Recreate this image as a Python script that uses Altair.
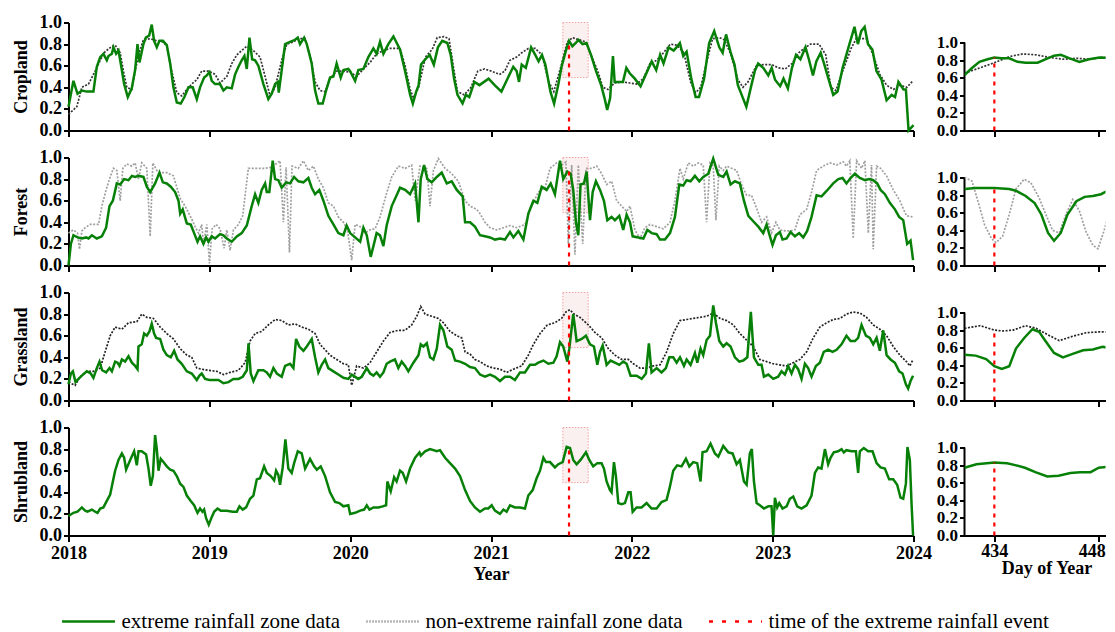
import altair as alt
import pandas as pd

FONT = "Liberation Serif"
GREEN = "#078007"
RED = "#ff0000"

# ---------------- data: main panels (decimal year, index value) ----------------
crop_ext = [(2018.000,.22),(2018.035,.46),(2018.064,.34),(2018.095,.37),(2018.130,.36),(2018.177,.36),(2018.201,.59),(2018.225,.68),(2018.248,.71),(2018.272,.65),(2018.284,.69),(2018.308,.71),(2018.319,.77),(2018.338,.71),(2018.355,.74),(2018.371,.62),(2018.395,.43),(2018.421,.31),(2018.449,.39),(2018.473,.56),(2018.490,.80),(2018.504,.63),(2018.532,.80),(2018.549,.86),(2018.573,.88),(2018.591,.98),(2018.608,.83),(2018.627,.77),(2018.646,.83),(2018.670,.83),(2018.698,.79),(2018.722,.62),(2018.745,.40),(2018.769,.26),(2018.797,.25),(2018.823,.31),(2018.852,.40),(2018.882,.40),(2018.911,.29),(2018.934,.40),(2018.963,.49),(2018.982,.51),
(2019.001,.54),(2019.017,.46),(2019.041,.43),(2019.076,.43),(2019.100,.37),(2019.124,.40),(2019.159,.39),(2019.183,.52),(2019.207,.59),(2019.230,.65),(2019.249,.69),(2019.266,.57),(2019.285,.86),(2019.304,.66),(2019.325,.65),(2019.348,.60),(2019.384,.43),(2019.419,.29),(2019.443,.34),(2019.467,.43),(2019.486,.45),(2019.493,.35),(2019.514,.56),(2019.538,.80),(2019.573,.82),(2019.609,.84),(2019.628,.86),(2019.644,.80),(2019.673,.86),(2019.692,.80),(2019.727,.62),(2019.751,.37),(2019.774,.25),(2019.805,.25),(2019.829,.37),(2019.857,.49),(2019.881,.50),(2019.904,.62),(2019.933,.49),(2019.952,.56),(2019.987,.57),
(2020.000,.55),(2020.035,.46),(2020.058,.56),(2020.094,.57),(2020.129,.68),(2020.165,.76),(2020.188,.71),(2020.212,.82),(2020.236,.71),(2020.271,.80),(2020.307,.87),(2020.354,.75),(2020.390,.55),(2020.426,.33),(2020.445,.25),(2020.469,.36),(2020.486,.42),(2020.503,.61),(2020.534,.66),(2020.565,.70),(2020.594,.61),(2020.623,.77),(2020.654,.83),(2020.690,.81),(2020.714,.70),(2020.738,.48),(2020.762,.33),(2020.798,.25),(2020.822,.33),(2020.846,.31),(2020.882,.45),(2020.918,.42),(2020.983,.48),
(2021.026,.42),(2021.074,.36),(2021.117,.48),(2021.158,.59),(2021.182,.55),(2021.199,.45),(2021.218,.61),(2021.247,.58),(2021.285,.77),(2021.314,.70),(2021.338,.64),(2021.362,.70),(2021.386,.61),(2021.422,.36),(2021.448,.25),(2021.477,.42),(2021.501,.59),(2021.530,.73),(2021.554,.83),(2021.578,.78),(2021.602,.81),(2021.621,.84),(2021.650,.80),(2021.678,.81),(2021.710,.70),(2021.746,.55),(2021.782,.42),(2021.806,.30),(2021.825,.19),(2021.846,.30),(2021.866,.69),(2021.878,.45),(2021.902,.45),(2021.937,.45),(2021.961,.58),(2021.985,.53),
(2022.021,.48),(2022.062,.41),(2022.093,.50),(2022.141,.64),(2022.173,.56),(2022.201,.70),(2022.225,.62),(2022.261,.77),(2022.297,.74),(2022.317,.77),(2022.341,.81),(2022.365,.69),(2022.389,.73),(2022.422,.48),(2022.453,.31),(2022.477,.31),(2022.513,.48),(2022.549,.81),(2022.585,.92),(2022.621,.77),(2022.645,.72),(2022.669,.89),(2022.700,.73),(2022.729,.61),(2022.753,.42),(2022.789,.30),(2022.813,.22),(2022.849,.42),(2022.873,.55),(2022.897,.62),(2022.933,.58),(2022.969,.51),(2022.993,.58),
(2023.017,.47),(2023.053,.41),(2023.077,.48),(2023.108,.39),(2023.137,.58),(2023.166,.70),(2023.197,.66),(2023.233,.77),(2023.257,.66),(2023.286,.51),(2023.310,.64),(2023.341,.72),(2023.365,.62),(2023.396,.48),(2023.430,.33),(2023.461,.36),(2023.497,.58),(2023.545,.80),(2023.581,.96),(2023.605,.80),(2023.629,.92),(2023.653,.96),(2023.677,.80),(2023.708,.75),(2023.737,.55),(2023.773,.47),(2023.809,.28),(2023.845,.33),(2023.869,.31),(2023.893,.45),(2023.929,.38),(2023.946,.38),(2023.965,.00),(2024.000,.05)]

crop_non = [(2018.000,.15),(2018.059,.22),(2018.095,.40),(2018.142,.43),(2018.189,.55),(2018.225,.65),(2018.260,.73),(2018.308,.78),(2018.331,.79),(2018.367,.72),(2018.390,.55),(2018.414,.40),(2018.449,.38),(2018.473,.55),(2018.497,.70),(2018.532,.84),(2018.580,.85),(2018.627,.83),(2018.674,.82),(2018.698,.78),(2018.733,.55),(2018.769,.35),(2018.804,.32),(2018.840,.38),(2018.875,.43),(2018.911,.47),(2018.946,.55),(2018.994,.55),
(2019.041,.52),(2019.076,.44),(2019.124,.50),(2019.159,.62),(2019.195,.70),(2019.230,.74),(2019.266,.78),(2019.313,.74),(2019.360,.68),(2019.396,.50),(2019.431,.32),(2019.467,.40),(2019.514,.65),(2019.550,.80),(2019.597,.82),(2019.632,.85),(2019.680,.85),(2019.715,.70),(2019.751,.45),(2019.786,.37),(2019.822,.36),(2019.857,.48),(2019.904,.55),(2019.952,.55),
(2020.000,.54),(2020.046,.50),(2020.094,.57),(2020.141,.63),(2020.188,.71),(2020.236,.74),(2020.283,.76),(2020.354,.76),(2020.390,.60),(2020.426,.38),(2020.450,.30),(2020.486,.40),(2020.534,.68),(2020.582,.75),(2020.618,.86),(2020.666,.87),(2020.702,.85),(2020.738,.55),(2020.762,.36),(2020.810,.33),(2020.858,.40),(2020.906,.55),(2020.954,.57),
(2021.002,.55),(2021.062,.52),(2021.098,.55),(2021.134,.65),(2021.182,.68),(2021.218,.72),(2021.266,.76),(2021.314,.76),(2021.362,.70),(2021.410,.45),(2021.446,.36),(2021.494,.58),(2021.542,.82),(2021.578,.86),(2021.626,.84),(2021.674,.82),(2021.710,.70),(2021.758,.55),(2021.794,.40),(2021.830,.38),(2021.878,.44),(2021.937,.45),(2021.985,.44),
(2022.033,.43),(2022.081,.48),(2022.129,.62),(2022.177,.65),(2022.225,.72),(2022.273,.80),(2022.321,.79),(2022.369,.72),(2022.417,.45),(2022.453,.35),(2022.489,.40),(2022.525,.60),(2022.573,.85),(2022.621,.86),(2022.657,.84),(2022.705,.70),(2022.753,.47),(2022.789,.40),(2022.825,.45),(2022.885,.60),(2022.933,.61),(2022.993,.61),
(2023.041,.58),(2023.089,.57),(2023.137,.62),(2023.185,.72),(2023.233,.77),(2023.269,.80),(2023.329,.80),(2023.377,.70),(2023.413,.40),(2023.449,.37),(2023.497,.55),(2023.557,.76),(2023.593,.85),(2023.665,.85),(2023.713,.70),(2023.761,.52),(2023.809,.42),(2023.857,.38),(2023.905,.42),(2023.953,.40),(2023.996,.46)]

forest_ext = [(2018.000,.00),(2018.017,.20),(2018.035,.28),(2018.064,.26),(2018.095,.25),(2018.125,.26),(2018.142,.25),(2018.166,.28),(2018.201,.25),(2018.237,.27),(2018.267,.35),(2018.291,.55),(2018.315,.60),(2018.343,.76),(2018.367,.75),(2018.395,.80),(2018.426,.79),(2018.450,.83),(2018.473,.82),(2018.497,.83),(2018.532,.82),(2018.556,.73),(2018.580,.68),(2018.615,.76),(2018.646,.86),(2018.670,.77),(2018.698,.76),(2018.726,.73),(2018.757,.68),(2018.781,.60),(2018.793,.48),(2018.811,.52),(2018.840,.39),(2018.868,.38),(2018.892,.30),(2018.916,.22),(2018.934,.27),(2018.958,.20),(2018.977,.26),(2018.994,.22),
(2019.017,.27),(2019.041,.25),(2019.076,.29),(2019.100,.28),(2019.124,.25),(2019.159,.22),(2019.195,.27),(2019.230,.30),(2019.266,.37),(2019.301,.55),(2019.325,.66),(2019.348,.58),(2019.372,.70),(2019.396,.76),(2019.408,.68),(2019.426,.68),(2019.450,.97),(2019.467,.80),(2019.490,.79),(2019.514,.72),(2019.545,.77),(2019.573,.76),(2019.602,.82),(2019.632,.78),(2019.668,.77),(2019.703,.81),(2019.727,.72),(2019.751,.66),(2019.781,.70),(2019.810,.60),(2019.845,.46),(2019.881,.38),(2019.916,.30),(2019.952,.28),(2019.975,.37),
(2020.000,.30),(2020.035,.26),(2020.071,.22),(2020.094,.35),(2020.118,.28),(2020.146,.08),(2020.169,.20),(2020.188,.30),(2020.212,.28),(2020.236,.18),(2020.259,.37),(2020.295,.55),(2020.330,.65),(2020.354,.72),(2020.390,.70),(2020.425,.66),(2020.461,.76),(2020.485,.40),(2020.501,.80),(2020.525,.93),(2020.548,.80),(2020.579,.77),(2020.615,.82),(2020.650,.86),(2020.686,.76),(2020.721,.78),(2020.757,.70),(2020.799,.64),(2020.816,.40),(2020.851,.40),(2020.886,.36),(2020.922,.28),(2020.957,.27),(2020.993,.26),
(2021.028,.24),(2021.064,.25),(2021.099,.24),(2021.135,.31),(2021.159,.26),(2021.194,.32),(2021.230,.24),(2021.265,.48),(2021.301,.60),(2021.329,.58),(2021.360,.73),(2021.395,.70),(2021.424,.76),(2021.454,.66),(2021.490,.97),(2021.513,.80),(2021.542,.87),(2021.565,.85),(2021.584,.70),(2021.603,.40),(2021.620,.28),(2021.636,.75),(2021.660,.76),(2021.679,.87),(2021.703,.42),(2021.722,.68),(2021.745,.78),(2021.774,.70),(2021.802,.60),(2021.826,.42),(2021.856,.45),(2021.880,.42),(2021.911,.46),(2021.939,.33),(2021.963,.47),(2021.987,.40),
(2022.006,.27),(2022.046,.26),(2022.082,.25),(2022.110,.33),(2022.141,.30),(2022.176,.29),(2022.200,.24),(2022.235,.24),(2022.271,.30),(2022.306,.45),(2022.337,.75),(2022.365,.74),(2022.389,.79),(2022.417,.78),(2022.448,.83),(2022.479,.78),(2022.507,.82),(2022.543,.85),(2022.578,.99),(2022.614,.84),(2022.649,.82),(2022.673,.87),(2022.701,.75),(2022.732,.78),(2022.767,.76),(2022.796,.60),(2022.827,.46),(2022.862,.41),(2022.898,.36),(2022.933,.30),(2022.957,.38),(2022.976,.29),(2022.999,.19),
(2023.023,.28),(2023.051,.31),(2023.070,.24),(2023.099,.25),(2023.127,.31),(2023.158,.27),(2023.188,.30),(2023.217,.26),(2023.245,.32),(2023.276,.45),(2023.312,.65),(2023.347,.64),(2023.383,.69),(2023.430,.76),(2023.466,.80),(2023.496,.81),(2023.524,.76),(2023.553,.81),(2023.584,.85),(2023.619,.81),(2023.655,.79),(2023.685,.80),(2023.714,.79),(2023.742,.76),(2023.766,.70),(2023.797,.66),(2023.832,.58),(2023.868,.52),(2023.898,.45),(2023.927,.42),(2023.955,.20),(2023.979,.23),(2023.997,.05)]

forest_non = [(2018.000,.30),(2018.035,.33),(2018.064,.30),(2018.078,.15),(2018.095,.32),(2018.118,.35),(2018.154,.38),(2018.213,.38),(2018.237,.55),(2018.267,.70),(2018.296,.82),(2018.319,.90),(2018.343,.88),(2018.367,.60),(2018.386,.90),(2018.414,.94),(2018.450,.92),(2018.473,.95),(2018.497,.80),(2018.520,.95),(2018.556,.90),(2018.580,.27),(2018.599,.95),(2018.627,.88),(2018.651,.86),(2018.698,.86),(2018.745,.83),(2018.793,.62),(2018.828,.55),(2018.875,.43),(2018.899,.36),(2018.923,.30),(2018.946,.38),(2018.958,.20),(2018.982,.38),
(2019.001,.02),(2019.020,.34),(2019.048,.38),(2019.076,.34),(2019.105,.16),(2019.124,.33),(2019.147,.14),(2019.171,.33),(2019.207,.38),(2019.237,.46),(2019.277,.90),(2019.337,.90),(2019.396,.90),(2019.443,.91),(2019.502,.97),(2019.526,.40),(2019.545,.91),(2019.569,.12),(2019.587,.92),(2019.632,.90),(2019.668,.97),(2019.703,.88),(2019.739,.92),(2019.774,.80),(2019.810,.72),(2019.845,.58),(2019.881,.55),(2019.916,.45),(2019.952,.40),(2019.980,.33),
(2020.011,.05),(2020.035,.38),(2020.071,.36),(2020.106,.30),(2020.142,.33),(2020.177,.34),(2020.212,.45),(2020.259,.67),(2020.295,.82),(2020.342,.92),(2020.390,.90),(2020.437,.93),(2020.461,.60),(2020.496,.92),(2020.544,.90),(2020.567,.55),(2020.591,.88),(2020.626,.99),(2020.674,.90),(2020.721,.85),(2020.768,.78),(2020.816,.60),(2020.851,.55),(2020.898,.52),(2020.922,.48),(2020.957,.40),(2020.993,.35),
(2021.040,.33),(2021.088,.35),(2021.135,.37),(2021.182,.35),(2021.242,.38),(2021.289,.55),(2021.336,.68),(2021.384,.72),(2021.419,.90),(2021.466,.95),(2021.502,.93),(2021.532,.96),(2021.549,.20),(2021.573,.93),(2021.596,.10),(2021.620,.93),(2021.651,.20),(2021.675,.90),(2021.715,.90),(2021.751,.92),(2021.786,.85),(2021.821,.75),(2021.857,.78),(2021.892,.60),(2021.928,.55),(2021.963,.50),(2021.987,.55),
(2022.022,.33),(2022.058,.25),(2022.093,.35),(2022.129,.38),(2022.176,.36),(2022.224,.34),(2022.271,.40),(2022.306,.60),(2022.342,.90),(2022.365,.80),(2022.401,.95),(2022.437,.92),(2022.472,.95),(2022.507,.93),(2022.531,.40),(2022.555,.95),(2022.578,.92),(2022.597,.42),(2022.621,.92),(2022.649,.88),(2022.673,.92),(2022.708,.90),(2022.744,.88),(2022.779,.75),(2022.815,.65),(2022.850,.65),(2022.886,.53),(2022.921,.40),(2022.957,.45),(2022.992,.30),
(2023.023,.40),(2023.051,.33),(2023.087,.32),(2023.122,.32),(2023.158,.33),(2023.193,.47),(2023.241,.52),(2023.276,.68),(2023.312,.88),(2023.359,.92),(2023.407,.95),(2023.454,.93),(2023.501,.96),(2023.524,.92),(2023.548,.97),(2023.572,.25),(2023.596,.97),(2023.631,.90),(2023.655,.97),(2023.679,.30),(2023.702,.93),(2023.714,.15),(2023.738,.92),(2023.766,.90),(2023.809,.83),(2023.856,.70),(2023.903,.60),(2023.950,.46),(2023.997,.45)]

grass_ext = [(2018.000,.15),(2018.017,.25),(2018.031,.27),(2018.050,.17),(2018.071,.20),(2018.095,.23),(2018.130,.27),(2018.158,.25),(2018.177,.21),(2018.201,.30),(2018.220,.36),(2018.239,.28),(2018.267,.26),(2018.291,.30),(2018.308,.27),(2018.331,.36),(2018.348,.35),(2018.362,.32),(2018.379,.38),(2018.402,.36),(2018.426,.41),(2018.450,.35),(2018.473,.32),(2018.490,.29),(2018.497,.50),(2018.520,.52),(2018.537,.62),(2018.556,.60),(2018.575,.64),(2018.591,.71),(2018.608,.62),(2018.622,.58),(2018.651,.57),(2018.674,.47),(2018.698,.42),(2018.726,.40),(2018.750,.46),(2018.774,.38),(2018.804,.34),(2018.840,.27),(2018.875,.25),(2018.911,.19),(2018.930,.23),(2018.946,.25),(2018.970,.20),
(2019.001,.19),(2019.029,.19),(2019.065,.19),(2019.100,.16),(2019.136,.17),(2019.171,.20),(2019.207,.20),(2019.237,.22),(2019.266,.28),(2019.278,.53),(2019.294,.25),(2019.313,.18),(2019.348,.28),(2019.384,.28),(2019.408,.26),(2019.431,.22),(2019.455,.30),(2019.479,.25),(2019.514,.22),(2019.538,.32),(2019.573,.34),(2019.597,.30),(2019.616,.57),(2019.639,.50),(2019.668,.46),(2019.692,.50),(2019.727,.57),(2019.751,.40),(2019.774,.26),(2019.798,.33),(2019.822,.38),(2019.845,.30),(2019.881,.27),(2019.916,.24),(2019.952,.21),(2019.987,.20),
(2020.011,.24),(2020.058,.20),(2020.082,.22),(2020.118,.30),(2020.142,.25),(2020.165,.23),(2020.188,.26),(2020.212,.22),(2020.236,.26),(2020.259,.34),(2020.283,.36),(2020.318,.38),(2020.342,.30),(2020.366,.36),(2020.390,.32),(2020.413,.27),(2020.449,.35),(2020.485,.42),(2020.501,.52),(2020.520,.50),(2020.544,.53),(2020.567,.40),(2020.591,.38),(2020.615,.48),(2020.638,.70),(2020.662,.65),(2020.690,.50),(2020.721,.47),(2020.745,.37),(2020.780,.36),(2020.816,.34),(2020.851,.31),(2020.886,.30),(2020.922,.24),(2020.957,.22),(2020.993,.24),
(2021.028,.22),(2021.064,.18),(2021.099,.22),(2021.135,.22),(2021.170,.19),(2021.206,.26),(2021.241,.26),(2021.277,.33),(2021.312,.33),(2021.336,.35),(2021.372,.37),(2021.407,.34),(2021.443,.35),(2021.466,.41),(2021.490,.54),(2021.513,.50),(2021.542,.36),(2021.556,.48),(2021.584,.80),(2021.608,.55),(2021.644,.57),(2021.674,.60),(2021.703,.52),(2021.731,.50),(2021.755,.33),(2021.774,.45),(2021.793,.51),(2021.821,.33),(2021.849,.37),(2021.880,.35),(2021.911,.33),(2021.939,.36),(2021.963,.34),(2021.991,.23),
(2022.034,.23),(2022.070,.20),(2022.100,.25),(2022.121,.53),(2022.140,.26),(2022.176,.30),(2022.211,.26),(2022.242,.30),(2022.266,.40),(2022.294,.40),(2022.318,.35),(2022.342,.40),(2022.370,.32),(2022.389,.38),(2022.417,.33),(2022.448,.44),(2022.465,.35),(2022.488,.48),(2022.507,.42),(2022.531,.56),(2022.555,.60),(2022.578,.88),(2022.597,.72),(2022.621,.55),(2022.649,.50),(2022.673,.53),(2022.701,.50),(2022.732,.40),(2022.763,.36),(2022.791,.37),(2022.820,.40),(2022.845,.82),(2022.867,.40),(2022.898,.33),(2022.921,.33),(2022.938,.22),(2022.969,.24),
(2023.004,.20),(2023.039,.22),(2023.063,.27),(2023.087,.24),(2023.110,.32),(2023.134,.25),(2023.158,.33),(2023.181,.29),(2023.205,.20),(2023.229,.34),(2023.252,.30),(2023.276,.22),(2023.307,.32),(2023.335,.35),(2023.363,.45),(2023.394,.47),(2023.425,.45),(2023.454,.47),(2023.489,.52),(2023.524,.60),(2023.553,.55),(2023.584,.55),(2023.607,.58),(2023.631,.70),(2023.662,.60),(2023.690,.58),(2023.714,.52),(2023.738,.58),(2023.761,.46),(2023.785,.65),(2023.809,.42),(2023.837,.38),(2023.868,.35),(2023.898,.27),(2023.922,.25),(2023.946,.15),(2023.962,.11),(2023.979,.18),(2023.997,.23)]

grass_non = [(2018.000,.17),(2018.047,.14),(2018.083,.22),(2018.130,.27),(2018.177,.27),(2018.225,.30),(2018.260,.45),(2018.296,.60),(2018.331,.68),(2018.379,.66),(2018.426,.72),(2018.485,.73),(2018.520,.80),(2018.556,.77),(2018.603,.76),(2018.651,.68),(2018.698,.62),(2018.745,.57),(2018.793,.48),(2018.840,.42),(2018.875,.40),(2018.911,.30),(2018.946,.29),(2018.994,.28),
(2019.053,.27),(2019.100,.24),(2019.147,.26),(2019.207,.28),(2019.254,.35),(2019.289,.55),(2019.325,.62),(2019.372,.64),(2019.419,.70),(2019.467,.75),(2019.514,.74),(2019.562,.70),(2019.609,.71),(2019.656,.68),(2019.703,.66),(2019.751,.62),(2019.786,.52),(2019.822,.47),(2019.857,.42),(2019.904,.38),(2019.952,.34),(2019.987,.33),
(2020.011,.14),(2020.046,.32),(2020.094,.30),(2020.141,.35),(2020.188,.45),(2020.236,.55),(2020.283,.63),(2020.342,.65),(2020.390,.65),(2020.437,.70),(2020.473,.78),(2020.501,.87),(2020.532,.80),(2020.579,.78),(2020.626,.76),(2020.662,.72),(2020.709,.64),(2020.757,.60),(2020.792,.58),(2020.816,.45),(2020.851,.43),(2020.886,.38),(2020.922,.36),(2020.969,.32),
(2021.017,.30),(2021.064,.29),(2021.111,.26),(2021.159,.29),(2021.218,.32),(2021.265,.42),(2021.301,.52),(2021.348,.62),(2021.400,.70),(2021.454,.72),(2021.501,.76),(2021.532,.82),(2021.561,.84),(2021.589,.80),(2021.632,.77),(2021.691,.70),(2021.738,.63),(2021.786,.58),(2021.833,.48),(2021.880,.42),(2021.928,.38),(2021.975,.38),
(2022.011,.34),(2022.058,.30),(2022.105,.30),(2022.152,.32),(2022.200,.33),(2022.247,.45),(2022.294,.62),(2022.342,.74),(2022.389,.75),(2022.436,.76),(2022.483,.77),(2022.531,.78),(2022.578,.81),(2022.626,.76),(2022.673,.74),(2022.720,.70),(2022.767,.62),(2022.815,.56),(2022.862,.50),(2022.909,.38),(2022.957,.36),
(2023.004,.34),(2023.051,.33),(2023.099,.32),(2023.146,.35),(2023.193,.38),(2023.241,.45),(2023.288,.58),(2023.335,.68),(2023.383,.72),(2023.430,.75),(2023.477,.76),(2023.525,.80),(2023.572,.82),(2023.619,.81),(2023.667,.77),(2023.714,.70),(2023.761,.66),(2023.809,.60),(2023.856,.50),(2023.903,.42),(2023.950,.36),(2023.974,.32),(2023.997,.38)]

shrub_ext = [(2018.000,.18),(2018.035,.21),(2018.064,.22),(2018.095,.26),(2018.118,.23),(2018.135,.22),(2018.166,.24),(2018.189,.22),(2018.206,.21),(2018.225,.25),(2018.248,.26),(2018.272,.32),(2018.296,.38),(2018.315,.50),(2018.331,.60),(2018.355,.70),(2018.379,.76),(2018.395,.72),(2018.409,.61),(2018.438,.70),(2018.466,.78),(2018.485,.65),(2018.497,.78),(2018.520,.78),(2018.551,.75),(2018.568,.62),(2018.584,.46),(2018.599,.55),(2018.615,.93),(2018.627,.80),(2018.639,.60),(2018.655,.71),(2018.674,.68),(2018.698,.64),(2018.722,.61),(2018.745,.60),(2018.769,.55),(2018.793,.48),(2018.816,.45),(2018.840,.37),(2018.868,.32),(2018.892,.28),(2018.916,.21),(2018.934,.25),(2018.951,.22),(2018.963,.24),(2018.977,.16),(2018.996,.10),
(2019.017,.17),(2019.034,.22),(2019.058,.25),(2019.081,.23),(2019.124,.23),(2019.166,.22),(2019.195,.22),(2019.214,.27),(2019.237,.24),(2019.261,.26),(2019.289,.34),(2019.313,.37),(2019.337,.52),(2019.360,.53),(2019.389,.64),(2019.408,.58),(2019.436,.55),(2019.460,.51),(2019.474,.60),(2019.490,.56),(2019.502,.47),(2019.521,.63),(2019.540,.89),(2019.561,.62),(2019.585,.58),(2019.602,.67),(2019.628,.78),(2019.656,.76),(2019.680,.62),(2019.715,.71),(2019.744,.64),(2019.763,.61),(2019.791,.64),(2019.822,.55),(2019.857,.40),(2019.893,.31),(2019.923,.30),(2019.952,.27),(2019.987,.28),
(2020.000,.20),(2020.035,.21),(2020.071,.23),(2020.099,.24),(2020.118,.28),(2020.137,.24),(2020.165,.26),(2020.200,.26),(2020.231,.27),(2020.255,.28),(2020.264,.50),(2020.288,.41),(2020.312,.54),(2020.330,.50),(2020.354,.60),(2020.373,.58),(2020.397,.50),(2020.425,.62),(2020.461,.72),(2020.492,.77),(2020.501,.74),(2020.532,.78),(2020.567,.80),(2020.615,.78),(2020.638,.79),(2020.674,.72),(2020.709,.67),(2020.745,.62),(2020.780,.55),(2020.816,.42),(2020.851,.32),(2020.886,.26),(2020.922,.22),(2020.957,.25),(2020.981,.25),
(2021.005,.28),(2021.028,.23),(2021.064,.20),(2021.088,.24),(2021.111,.22),(2021.135,.28),(2021.170,.26),(2021.206,.26),(2021.241,.25),(2021.265,.37),(2021.296,.42),(2021.324,.53),(2021.348,.60),(2021.372,.72),(2021.390,.68),(2021.419,.68),(2021.454,.63),(2021.478,.66),(2021.509,.68),(2021.537,.82),(2021.561,.81),(2021.584,.70),(2021.608,.66),(2021.636,.70),(2021.674,.77),(2021.698,.70),(2021.726,.64),(2021.755,.67),(2021.785,.67),(2021.802,.62),(2021.821,.50),(2021.845,.42),(2021.856,.40),(2021.873,.68),(2021.887,.55),(2021.904,.30),(2021.927,.29),(2021.951,.30),(2021.975,.40),(2021.991,.40),
(2022.006,.22),(2022.034,.26),(2022.069,.26),(2022.105,.30),(2022.140,.25),(2022.176,.25),(2022.211,.31),(2022.247,.33),(2022.270,.45),(2022.294,.60),(2022.322,.65),(2022.353,.64),(2022.384,.71),(2022.408,.64),(2022.436,.68),(2022.464,.67),(2022.488,.50),(2022.502,.77),(2022.531,.78),(2022.559,.85),(2022.590,.76),(2022.614,.73),(2022.649,.83),(2022.685,.77),(2022.715,.76),(2022.744,.66),(2022.767,.70),(2022.796,.50),(2022.815,.47),(2022.838,.76),(2022.852,.80),(2022.867,.50),(2022.886,.30),(2022.909,.28),(2022.938,.25),(2022.969,.27),(2022.992,.27),
(2023.004,.00),(2023.016,.35),(2023.032,.26),(2023.047,.30),(2023.070,.25),(2023.099,.27),(2023.122,.34),(2023.146,.36),(2023.174,.27),(2023.205,.25),(2023.241,.28),(2023.276,.37),(2023.300,.58),(2023.323,.63),(2023.347,.62),(2023.371,.80),(2023.394,.66),(2023.411,.72),(2023.434,.77),(2023.465,.78),(2023.489,.80),(2023.505,.77),(2023.524,.79),(2023.560,.78),(2023.591,.78),(2023.607,.58),(2023.619,.78),(2023.647,.81),(2023.678,.78),(2023.709,.78),(2023.738,.67),(2023.766,.63),(2023.797,.62),(2023.827,.52),(2023.856,.52),(2023.884,.47),(2023.908,.35),(2023.927,.34),(2023.946,.48),(2023.957,.82),(2023.974,.70),(2023.986,.30),(2023.997,.00)]

# ---------------- data: zoomed panels (day of year, index value) ----------------
crop_in_ext = [(430,.63),(431,.71),(432,.78),(433.1,.81),(434,.83),(434.9,.82),(436,.82),(437.1,.78),(438.2,.77),(439.8,.77),(440.9,.81),(442,.85),(442.9,.86),(444.1,.82),(445.4,.78),(446.7,.81),(448.1,.83),(450,.82)]
crop_in_non = [(430,.65),(432,.71),(434,.77),(436,.84),(437.8,.87),(439.6,.86),(441.4,.83),(443.2,.81),(445,.82),(446.7,.81),(448.5,.83),(450,.82)]
forest_in_ext = [(430,.87),(431.5,.88),(434,.88),(436,.87),(436.9,.85),(438.2,.79),(439.4,.71),(440.3,.58),(441.2,.37),(442,.28),(442.9,.37),(443.8,.58),(445,.73),(446.1,.78),(447.2,.79),(448.3,.81),(449.2,.85),(450,.85)]
forest_in_non = [(430,1.0),(431,.96),(431.8,.73),(432.7,.46),(433.6,.31),(434.2,.26),(435.1,.33),(436,.58),(436.9,.87),(438,.98),(438.9,.94),(440,.77),(440.9,.58),(441.8,.40),(442.7,.37),(443.6,.58),(444.5,.75),(445.4,.62),(446.3,.38),(447.2,.23),(447.9,.19),(448.8,.42),(449.4,.65),(450,.78)]
grass_in_ext = [(430,.52),(431.5,.51),(432.9,.47),(434,.39),(435,.36),(436,.39),(436.9,.59),(438,.71),(439.1,.81),(440,.78),(440.9,.67),(442,.54),(443.2,.49),(444.5,.53),(445.9,.57),(447.2,.58),(448.5,.61),(450,.59)]
grass_in_non = [(430,.82),(432.1,.85),(434,.80),(435.1,.79),(436.5,.80),(438.2,.85),(439.6,.82),(441.1,.75),(442.7,.68),(444.5,.73),(446.3,.77),(448.1,.78),(450,.78)]
shrub_in_ext = [(430,.77),(431.6,.81),(434,.83),(435.7,.82),(436.8,.80),(438.1,.77),(439.5,.72),(441.1,.67),(442.6,.68),(444.2,.71),(445.5,.72),(446.9,.72),(448,.77),(449.1,.78),(450,.77)]

names = ["Cropland", "Forest", "Grassland", "Shrubland"]
main_ext = [crop_ext, forest_ext, grass_ext, shrub_ext]
main_non = [crop_non, forest_non, grass_non, None]
inset_ext = [crop_in_ext, forest_in_ext, grass_in_ext, shrub_in_ext]
inset_non = [crop_in_non, forest_in_non, grass_in_non, None]
non_colors = ["#333333", "#a0a0a0", "#222222", None]

event_year = 2021.554
event_day = 434
event_top_main = [0.83, 0.90, 0.82, 0.82]
event_top_inset = [0.83, 0.88, 0.80, 0.83]
box_start, box_end, box_low, box_high = 2021.51, 2021.69, 0.49, 1.0

year_ticks = [2018, 2019, 2020, 2021, 2022, 2023, 2024]
day_ticks = [434, 448]
day_domain = [430, 448.9]
y_ticks = [0.0, 0.2, 0.4, 0.6, 0.8, 1.0]
legend_names = ["extreme rainfall zone data", "non-extreme rainfall zone data",
                "time of the extreme rainfall event"]

MAIN_W, MAIN_H = 845, 108
INSET_W = 141
INSET_TOP = MAIN_H / 88.0  # inset value axis is shorter than the main one

LEG = dict(orient="none", legendX=-8, legendY=166, direction="horizontal", columns=3,
           title=None, labelFont=FONT, labelFontSize=21, labelFontWeight="normal",
           labelColor="black", labelLimit=600, symbolSize=2800, symbolStrokeWidth=2.5,
           symbolType="stroke", columnPadding=20, labelOffset=5, padding=0)


def frame(pairs, xname):
    return pd.DataFrame(pairs, columns=[xname, "v"])


def main_panel(i):
    last = i == 3
    xaxis = alt.Axis(values=year_ticks, format="d", labels=last, title="Year" if last else None,
                     tickSize=6, labelPadding=3, titlePadding=3)
    yaxis = alt.Axis(values=y_ticks, format=".1f", title=names[i], tickSize=5,
                     labelPadding=2, titlePadding=9, labelOverlap=False)
    X = alt.X("t:Q", scale=alt.Scale(domain=[2018, 2024], nice=False, zero=False), axis=xaxis)
    Y = alt.Y("v:Q", scale=alt.Scale(domain=[0, 1], nice=False), axis=yaxis)

    box_df = pd.DataFrame({"t": [box_start], "t2": [box_end], "v": [box_low], "v2": [box_high]})
    box = alt.Chart(box_df).mark_rect(fill="#f3dede", fillOpacity=0.45, stroke="#f2a0a0",
                                      strokeWidth=1, strokeDash=[1.5, 1.5]).encode(
        x=X, x2="t2:Q", y=Y, y2="v2:Q")
    layers = [box]
    if main_non[i] is not None:
        layers.append(alt.Chart(frame(main_non[i], "t")).mark_line(
            color=non_colors[i], strokeWidth=1.7, strokeDash=[2, 1.5]).encode(x=X, y=Y))
    layers.append(alt.Chart(frame(main_ext[i], "t")).mark_line(
        color=GREEN, strokeWidth=2.5).encode(x=X, y=Y))
    ev = pd.DataFrame({"t": [event_year, event_year], "v": [0.0, event_top_main[i]]})
    layers.append(alt.Chart(ev).mark_line(color=RED, strokeWidth=2.2, strokeDash=[4, 5]).encode(x=X, y=Y))
    if last:
        leg = pd.DataFrame({"t": [2018.0] * 3, "v": [None] * 3, "series": legend_names})
        layers.append(alt.Chart(leg).mark_line(strokeWidth=2.5).encode(
            x=X, y=Y,
            color=alt.Color("series:N", scale=alt.Scale(domain=legend_names,
                                                        range=[GREEN, "#b8b8b8", RED]),
                            legend=alt.Legend(**LEG)),
            strokeDash=alt.StrokeDash("series:N", scale=alt.Scale(
                domain=legend_names, range=[[1, 0], [2, 1], [4, 9]]),
                legend=alt.Legend(**LEG))))
    return alt.layer(*layers).properties(width=MAIN_W, height=MAIN_H)


def inset_panel(i):
    last = i == 3
    xaxis = alt.Axis(values=day_ticks, format="d", labels=last,
                     title="Day of Year" if last else None, tickSize=6, labelPadding=1,
                     titlePadding=-1, titleX=82,
                     labelOffset={"condition": {"test": "datum.value == 448", "value": -7},
                                  "value": 0})
    yaxis = alt.Axis(values=y_ticks, format=".1f", title=None, tickSize=5, labelPadding=2,
                     domain=False, labelOverlap=False, labelFontSize=17)
    X = alt.X("d:Q", scale=alt.Scale(domain=day_domain, nice=False, zero=False), axis=xaxis)
    Y = alt.Y("v:Q", scale=alt.Scale(domain=[0, INSET_TOP], nice=False), axis=yaxis)
    axis_line = pd.DataFrame({"d": [430, 430], "v": [0.0, 1.0]})
    layers = [alt.Chart(axis_line).mark_line(color="black", strokeWidth=2).encode(x=X, y=Y)]
    if inset_non[i] is not None:
        layers.append(alt.Chart(frame(inset_non[i], "d")).mark_line(
            color=non_colors[i], strokeWidth=1.7, strokeDash=[2, 1.5], clip=True).encode(x=X, y=Y))
    layers.append(alt.Chart(frame(inset_ext[i], "d")).mark_line(
        color=GREEN, strokeWidth=2.5, clip=True).encode(x=X, y=Y))
    ev = pd.DataFrame({"d": [event_day, event_day], "v": [0.0, event_top_inset[i]]})
    layers.append(alt.Chart(ev).mark_line(color=RED, strokeWidth=2.2, strokeDash=[4, 5]).encode(x=X, y=Y))
    return alt.layer(*layers).properties(width=INSET_W, height=MAIN_H)


panels = []
for i in range(4):
    panels.append(main_panel(i))
    panels.append(inset_panel(i))

chart = alt.concat(*panels, columns=2, spacing={"row": 27, "column": 51}, bounds="flush").resolve_scale(
    x="independent", y="independent", color="independent", strokeDash="independent"
).resolve_axis(x="independent", y="independent").resolve_legend(
    color="independent", strokeDash="independent"
).properties(
    padding={"left": 3.5, "top": 5.5, "right": 0, "bottom": 0}
).configure_axis(
    labelFont=FONT, labelFontSize=18, labelFontWeight="bold", labelColor="black",
    titleFont=FONT, titleFontSize=18, titleFontWeight="bold", titleColor="black",
    domainColor="black", domainWidth=2, tickColor="black", tickWidth=2, grid=False,
    labelFlush=False,
).configure_legend(
    labelFont=FONT, labelFontSize=21, labelColor="black"
).configure_view(stroke=None)

chart.save("out.html", embed_options={"renderer": "svg", "actions": False})
